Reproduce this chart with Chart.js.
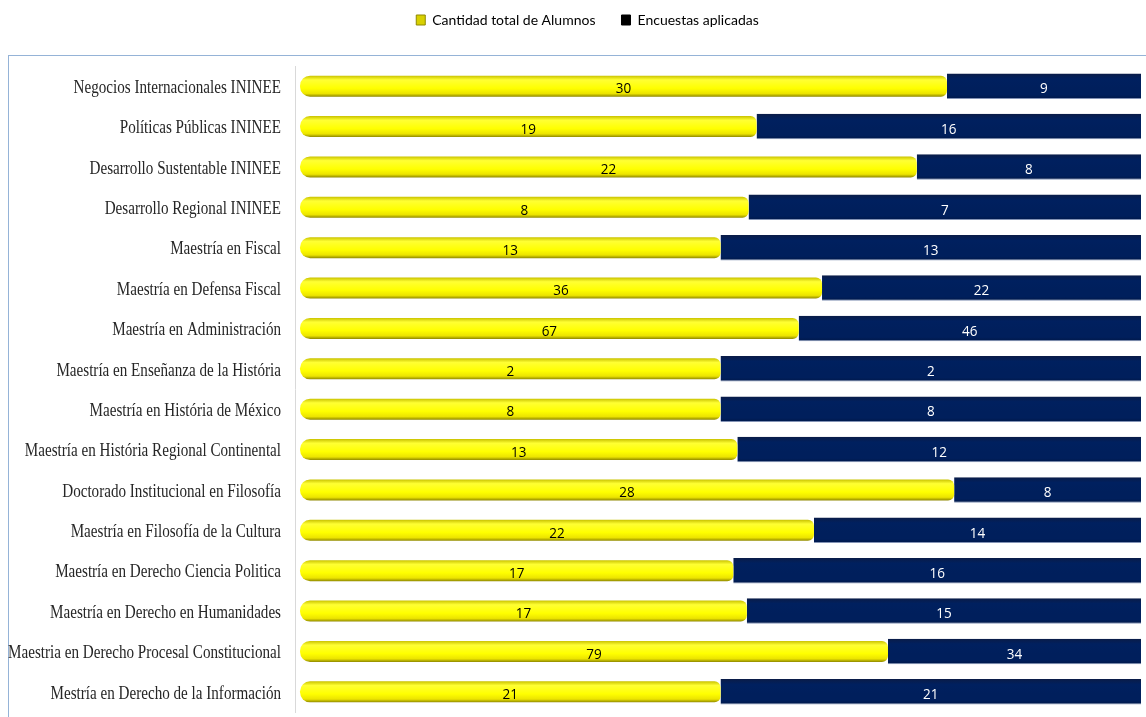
<!DOCTYPE html>
<html>
<head>
<meta charset="utf-8">
<script src="https://cdn.jsdelivr.net/npm/chart.js@4/dist/chart.umd.min.js"></script>
<style>
  html, body { margin: 0; padding: 0; background: #ffffff; }
  #wrap { width: 1146px; height: 717px; }
</style>
</head>
<body>
<div id="wrap"><canvas id="chartAlumnos"></canvas></div>
<script>
const programas = [
    'Negocios Internacionales ININEE',
    'Políticas Públicas ININEE',
    'Desarrollo Sustentable ININEE',
    'Desarrollo Regional ININEE',
    'Maestría en Fiscal',
    'Maestría en Defensa Fiscal',
    'Maestría en Administración',
    'Maestría en Enseñanza de la História',
    'Maestría en História de México',
    'Maestría en História Regional Continental',
    'Doctorado Institucional en Filosofía',
    'Maestría en Filosofía de la Cultura',
    'Maestría en Derecho Ciencia Politica',
    'Maestría en Derecho en Humanidades',
    'Maestria en Derecho Procesal Constitucional',
    'Mestría en Derecho de la Información'
];
const totalAlumnos = [30, 19, 22, 8, 13, 36, 67, 2, 8, 13, 28, 22, 17, 17, 79, 21];
const encuestas    = [9, 16, 8, 7, 13, 22, 46, 2, 8, 12, 8, 14, 16, 15, 34, 21];

// 100% apilado: cada fila se reparte entre las dos series
function porcentajes(a, b) {
    return a.map((v, i) => v / (v + b[i]) * 100);
}
const pctAlumnos = porcentajes(totalAlumnos, encuestas);
const pctEncuestas = porcentajes(encuestas, totalAlumnos);
const valoresPorSerie = [totalAlumnos, encuestas];

function gradienteFila(ctx, colores, alto) {
    const chart = ctx.chart;
    const y = chart.scales && chart.scales.y;
    if (!chart.chartArea || !y) return colores[2];
    const cy = y.getPixelForValue(ctx.dataIndex);
    if (!isFinite(cy)) return colores[2];
    const g = chart.ctx.createLinearGradient(0, cy - alto / 2, 0, cy + alto / 2);
    g.addColorStop(0, colores[0]);
    g.addColorStop(0.2, colores[1]);
    g.addColorStop(0.6, colores[2]);
    g.addColorStop(0.85, colores[3]);
    g.addColorStop(1, colores[4]);
    return g;
}

const marcoPlugin = {
    id: 'marco',
    beforeDraw(chart) {
        const c = chart.ctx;
        c.save();
        c.strokeStyle = '#95b3d7';
        c.lineWidth = 1;
        c.strokeRect(8.5, 55.5, 1200, 800);
        c.restore();
    }
};

// etiquetas del eje Y, en letra estrecha como el original
const etiquetasPlugin = {
    id: 'etiquetas',
    afterDraw(chart) {
        const c = chart.ctx;
        const y = chart.scales.y;
        c.save();
        c.font = '18px "Liberation Serif", serif';
        c.fillStyle = '#262626';
        c.textAlign = 'right';
        c.textBaseline = 'middle';
        chart.data.labels.forEach((lab, i) => {
            c.save();
            c.translate(281, y.getPixelForTick(i) + 2);
            c.scale(0.84, 1);
            c.fillText(lab, 0, 0);
            c.restore();
        });
        c.restore();
    }
};

const valoresPlugin = {
    id: 'valores',
    afterDatasetsDraw(chart) {
        const c = chart.ctx;
        c.save();
        c.font = '15px "Open Sans", sans-serif';
        c.textAlign = 'center';
        c.textBaseline = 'middle';
        chart.data.datasets.forEach((ds, di) => {
            const meta = chart.getDatasetMeta(di);
            c.fillStyle = di === 0 ? '#000000' : '#ffffff';
            meta.data.forEach((bar, i) => {
                const p = bar.getProps(['x', 'y', 'base'], true);
                c.save();
                c.translate((p.x + p.base) / 2, p.y + 3);
                c.scale(0.9, 1);
                c.fillText(String(valoresPorSerie[di][i]), 0, 0);
                c.restore();
            });
        });
        c.restore();
    }
};

const ctx = document.getElementById('chartAlumnos').getContext('2d');
new Chart(ctx, {
    type: 'bar',
    data: {
        labels: programas,
        datasets: [{
            label: 'Cantidad total de Alumnos',
            data: pctAlumnos,
            backgroundColor: c => gradienteFila(c, ['#c9c200', '#ffff33', '#ffff00', '#ece400', '#8f8800'], 21),
            borderWidth: 0,
            borderSkipped: false,
            borderRadius: { topLeft: 10, bottomLeft: 10, topRight: 6, bottomRight: 6 },
            barPercentage: 0.52,
            categoryPercentage: 1
        }, {
            label: 'Encuestas aplicadas',
            data: pctEncuestas,
            backgroundColor: c => gradienteFila(c, ['#0a1c48', '#00205f', '#001f5c', '#001f5c', '#00184a'], 25),
            borderColor: '#8393b5',
            borderWidth: { bottom: 1, top: 0, left: 0, right: 0 },
            borderSkipped: false,
            barPercentage: 0.63,
            categoryPercentage: 1
        }]
    },
    options: {
        indexAxis: 'y',
        responsive: true,
        maintainAspectRatio: false,
        animation: false,
        layout: { padding: { top: -13, right: 5, bottom: 5, left: 34 } },
        scales: {
            x: {
                stacked: true,
                min: -0.6,
                max: 100,
                display: false
            },
            y: {
                stacked: true,
                grid: { display: false, drawTicks: false },
                border: { display: true, color: '#d9d9d9' },
                ticks: { display: false },
                afterFit: function(scale) { scale.width = 261; }
            }
        },
        plugins: {
            legend: {
                position: 'top',
                labels: {
                    boxWidth: 9,
                    boxHeight: 10,
                    padding: 26,
                    color: '#3a4556',
                    font: { family: 'Lato, sans-serif', size: 14 },
                    generateLabels: function() {
                        return [
                            { text: 'Cantidad total de Alumnos', fillStyle: '#d8d000', strokeStyle: '#8f8800', lineWidth: 1, datasetIndex: 0 },
                            { text: 'Encuestas aplicadas', fillStyle: '#000000', strokeStyle: '#000000', lineWidth: 1, datasetIndex: 1 }
                        ];
                    }
                }
            },
            tooltip: { enabled: false }
        }
    },
    plugins: [marcoPlugin, etiquetasPlugin, valoresPlugin, {
        id: 'altoLeyenda',
        beforeInit(chart) {
            const fit = chart.legend.fit;
            chart.legend.fit = function() {
                fit.bind(this)();
                this.height = 79;
            };
        }
    }]
});
</script>
</body>
</html>
